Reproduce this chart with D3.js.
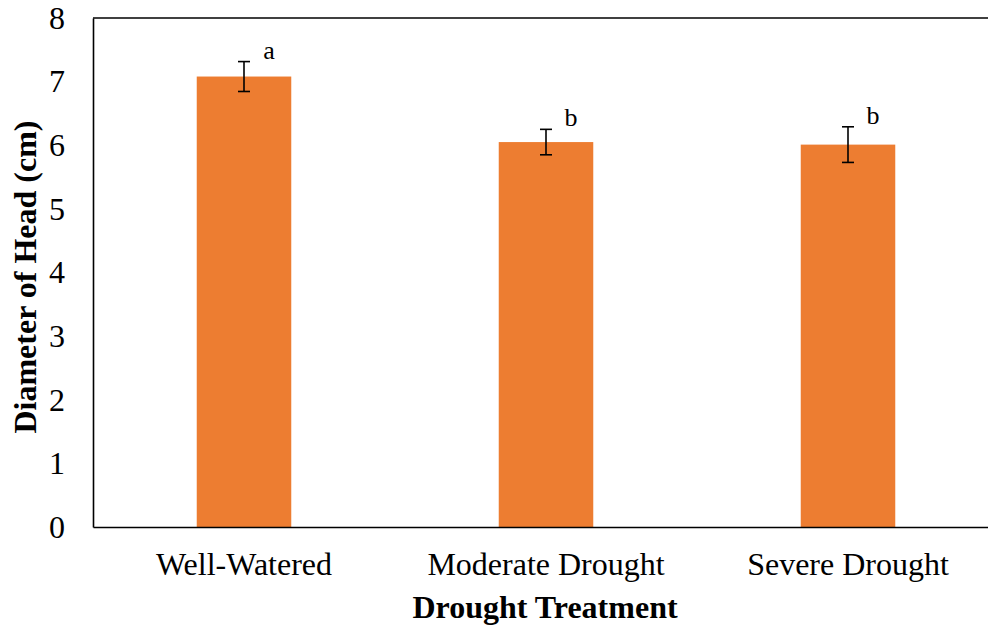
<!DOCTYPE html>
<html>
<head>
<meta charset="utf-8">
<script src="https://cdn.jsdelivr.net/npm/d3@7"></script>
<style>
  body { margin: 0; background: #fff; }
  text { font-family: "Liberation Serif", "Times New Roman", serif; fill: #000; }
</style>
</head>
<body>
<svg id="chart" width="988" height="628"></svg>
<script>
// values
var treatments = ["Well-Watered", "Moderate Drought", "Severe Drought"];
var means = [7.08, 6.05, 6.01];
var errors = [0.235, 0.2, 0.28];
var letters = ["a", "b", "b"];
var yTicks = [0, 1, 2, 3, 4, 5, 6, 7, 8];

function main() {
    var svg = d3.select("#chart");
    var left = 93, top = 18, bottom = 527, right = 999;

    var xScale = d3.scaleBand().domain(treatments).range([left, right]).padding(0),
        yScale = d3.scaleLinear().domain([0, 8]).range([bottom, top]);

    var barW = xScale.bandwidth() * 0.313;

    var data = treatments.map(function(t, i) {
        return { name: t, mean: means[i], err: errors[i], letter: letters[i] };
    });

    // bars
    svg.selectAll(".bar")
        .data(data)
        .enter().append("rect")
        .attr("class", "bar")
        .attr("x", function(d) { return xScale(d.name) + xScale.bandwidth() / 2 - barW / 2; })
        .attr("y", function(d) { return yScale(d.mean); })
        .attr("width", barW)
        .attr("height", function(d) { return yScale(0) - yScale(d.mean); })
        .attr("fill", "#ED7D31");

    // error bars
    var eb = svg.selectAll(".err")
        .data(data)
        .enter().append("g")
        .attr("class", "err")
        .attr("stroke", "#000")
        .attr("stroke-width", 1.6);
    eb.append("line")
        .attr("x1", function(d) { return xScale(d.name) + xScale.bandwidth() / 2; })
        .attr("x2", function(d) { return xScale(d.name) + xScale.bandwidth() / 2; })
        .attr("y1", function(d) { return yScale(d.mean + d.err); })
        .attr("y2", function(d) { return yScale(d.mean - d.err); });
    [1, -1].forEach(function(s) {
        eb.append("line")
            .attr("x1", function(d) { return xScale(d.name) + xScale.bandwidth() / 2 - 6; })
            .attr("x2", function(d) { return xScale(d.name) + xScale.bandwidth() / 2 + 6; })
            .attr("y1", function(d) { return yScale(d.mean + s * d.err); })
            .attr("y2", function(d) { return yScale(d.mean + s * d.err); });
    });

    // significance letters
    svg.selectAll(".letter")
        .data(data)
        .enter().append("text")
        .attr("class", "letter")
        .attr("x", function(d) { return xScale(d.name) + xScale.bandwidth() / 2 + 25; })
        .attr("y", function(d) { return yScale(d.mean + d.err) - 3; })
        .attr("text-anchor", "middle")
        .style("font-size", "26px")
        .text(function(d) { return d.letter; });

    // axes
    var yAxis = svg.append("g")
        .attr("transform", "translate(" + left + ",0)")
        .call(d3.axisLeft(yScale).tickValues(yTicks).tickSize(0).tickPadding(28));
    yAxis.select(".domain").attr("stroke", "#000").attr("stroke-width", 1.6);
    yAxis.selectAll("text").style("font-size", "32px");

    var xAxis = svg.append("g")
        .attr("transform", "translate(0," + bottom + ")")
        .call(d3.axisBottom(xScale).tickSize(0).tickPadding(25));
    xAxis.select(".domain").attr("stroke", "#000").attr("stroke-width", 1.6);
    xAxis.selectAll("text").style("font-size", "32px");

    // top border
    svg.append("line")
        .attr("x1", left).attr("x2", 988)
        .attr("y1", top).attr("y2", top)
        .attr("stroke", "#000").attr("stroke-width", 1.6);

    // axis titles
    svg.append("text")
        .attr("x", 545).attr("y", 618)
        .attr("text-anchor", "middle")
        .style("font-size", "32px").style("font-weight", "bold")
        .text("Drought Treatment");

    svg.append("text")
        .attr("transform", "translate(36,277) rotate(-90)")
        .attr("text-anchor", "middle")
        .style("font-size", "32px").style("font-weight", "bold")
        .text("Diameter of Head (cm)");
}
main();
</script>
</body>
</html>
